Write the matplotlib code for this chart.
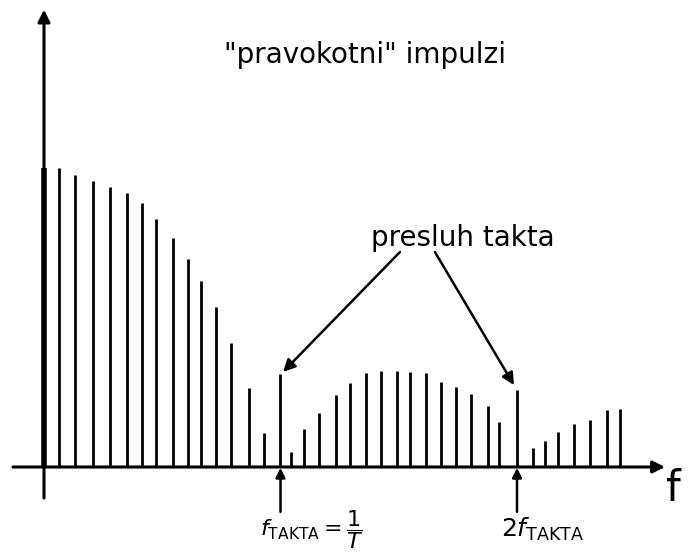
import numpy as np
import matplotlib.pyplot as plt

# Spekter "pravokotnih" impulzov: frekvence (v enotah f_takta) in amplitude
freq = [0.0, 0.063, 0.131, 0.207, 0.279, 0.351, 0.414, 0.474, 0.545, 0.609,
        0.664, 0.727, 0.791, 0.867, 0.930, 1.0,
        1.044, 1.099, 1.163, 1.235, 1.294, 1.362, 1.425, 1.493, 1.548, 1.615,
        1.679, 1.742, 1.805, 1.877, 1.924, 2.0,
        2.068, 2.118, 2.173, 2.241, 2.309, 2.381, 2.436]
amp = [1.00, 1.00, 0.977, 0.957, 0.936, 0.916, 0.883, 0.829, 0.766, 0.696,
       0.622, 0.535, 0.415, 0.264, 0.114, 0.311,
       0.050, 0.127, 0.181, 0.241, 0.281, 0.314, 0.321, 0.321, 0.318, 0.314,
       0.284, 0.268, 0.244, 0.204, 0.151, 0.258,
       0.064, 0.087, 0.117, 0.144, 0.157, 0.191, 0.194]

fig = plt.figure(figsize=(6.88, 5.54), dpi=100)
ax = fig.add_axes([0, 0, 1, 1])
ax.set_xlim(-0.186, 2.723)
ax.set_ylim(-0.291, 1.562)
ax.axis('off')

# crte spektra
ax.vlines(freq[1:], 0, amp[1:], color='black', linewidth=2.0)
ax.vlines(freq[0], 0, amp[0], color='black', linewidth=4.0)

# osi
ax.annotate('', xy=(2.626, 0), xytext=(-0.131, 0),
            arrowprops=dict(arrowstyle='-|>', color='black', lw=2.2,
                            mutation_scale=18, shrinkA=0, shrinkB=0))
ax.annotate('', xy=(0, 1.53), xytext=(0, -0.104),
            arrowprops=dict(arrowstyle='-|>', color='black', lw=2.2,
                            mutation_scale=18, shrinkA=0, shrinkB=0))
ax.text(2.66, -0.075, 'f', fontsize=30, ha='center', va='center')

# napisi
ax.text(1.357, 1.378, '"pravokotni" impulzi', fontsize=20, ha='center', va='center')
ax.text(1.772, 0.766, 'presluh takta', fontsize=20, ha='center', va='center')

for xh, yh in [(1.011, 0.318), (1.987, 0.274)]:
    xt = 1.505 if xh < 1.5 else 1.653
    ax.annotate('', xy=(xh, yh), xytext=(xt, 0.719),
                arrowprops=dict(arrowstyle='-|>', color='black', lw=1.8,
                                mutation_scale=18, shrinkA=0, shrinkB=0))

# oznake pod osjo
for xa in [1.0, 2.0]:
    ax.annotate('', xy=(xa, -0.003), xytext=(xa, -0.15),
                arrowprops=dict(arrowstyle='-|>', color='black', lw=1.8,
                                mutation_scale=14, shrinkA=0, shrinkB=0))
ax.text(1.133, -0.21, r'$f_{\mathrm{TAKTA}} = \dfrac{1}{T}$', fontsize=16,
        ha='center', va='center')
ax.text(2.11, -0.21, r'$2f_{\mathrm{TAKTA}}$', fontsize=18,
        ha='center', va='center')

fig.savefig('out.png', dpi=100, facecolor='white')
